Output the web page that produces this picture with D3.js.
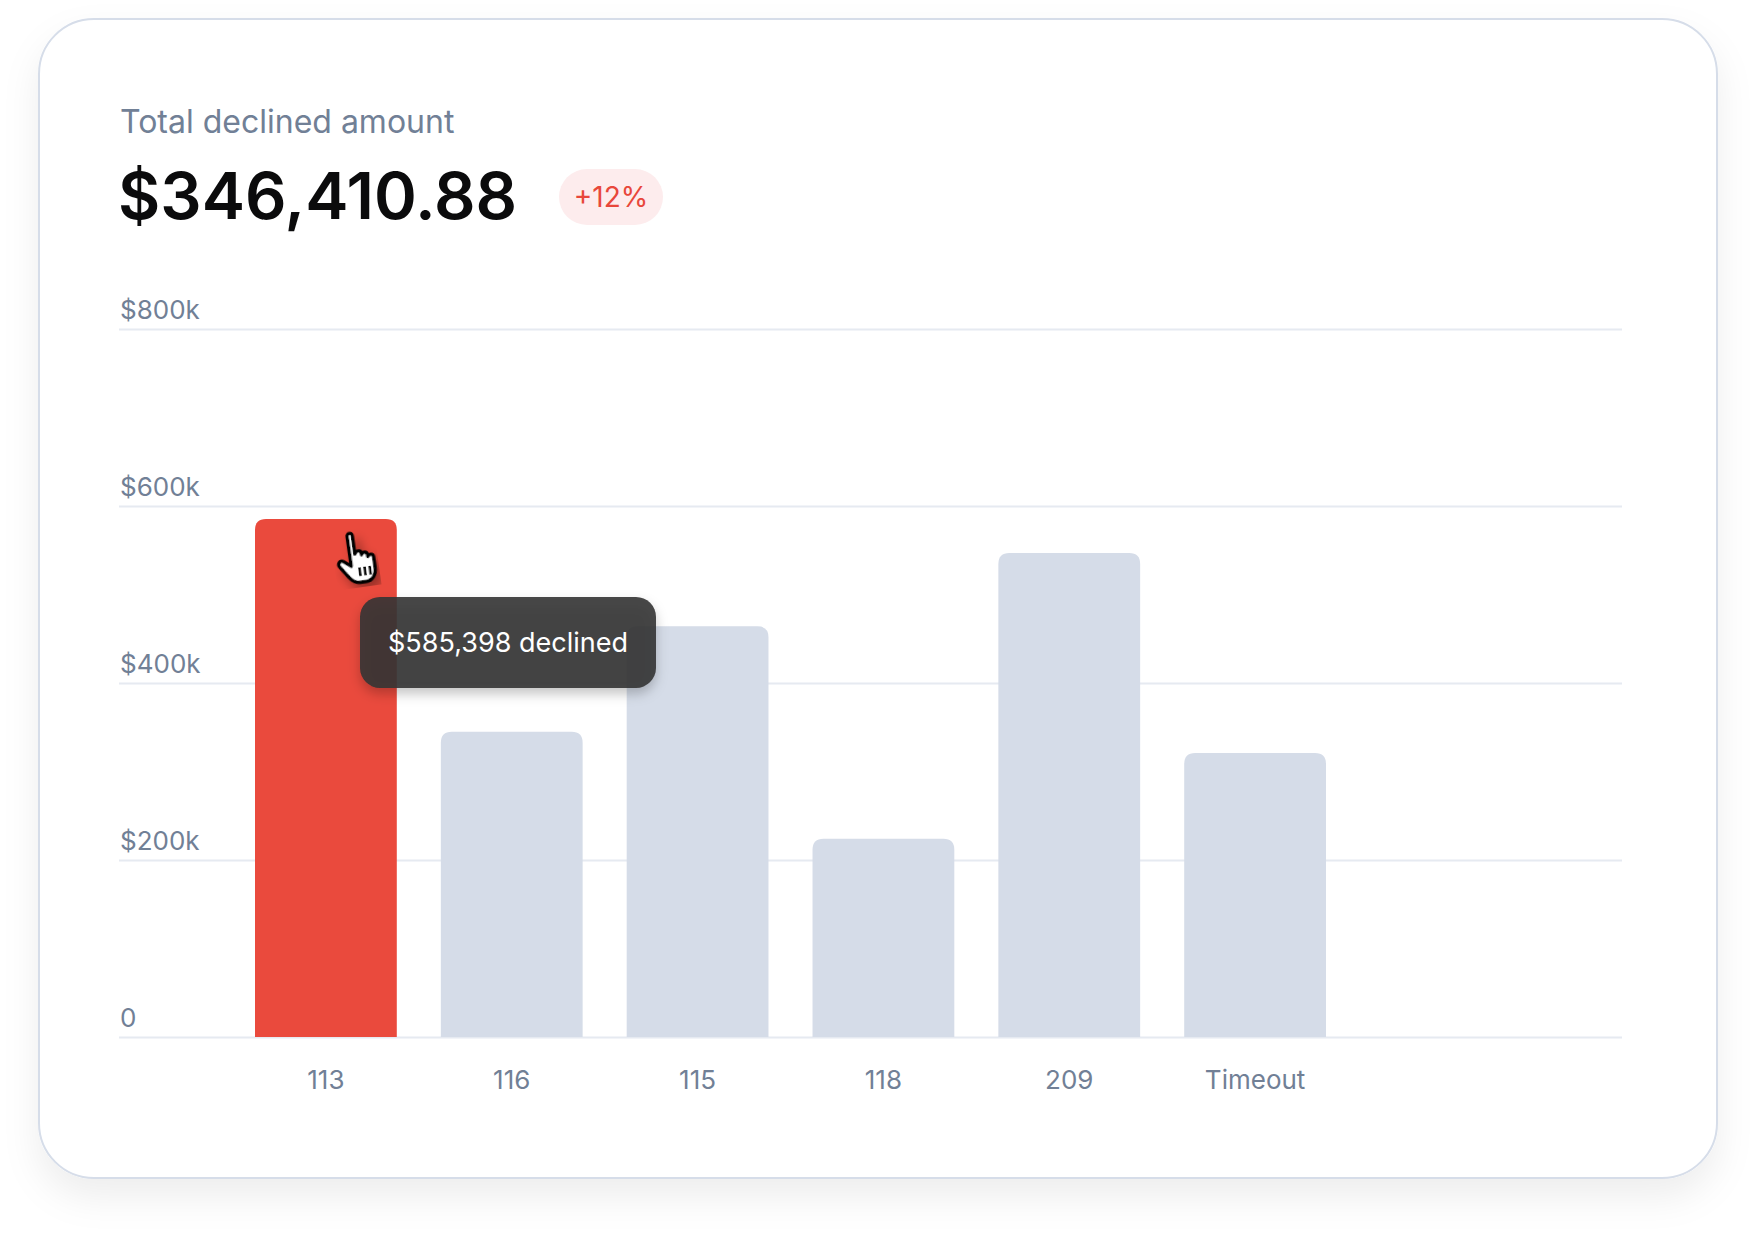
<!DOCTYPE html>
<html lang="en">
<head>
<meta charset="UTF-8">
<title>Total declined amount</title>
<script src="https://d3js.org/d3.v7.min.js"></script>
<style>
    body { margin: 0; background: #fff; font-family: Inter, "Noto Sans", sans-serif; }
    .axis text { font-family: Inter, sans-serif; font-size: 26px; fill: #718096; }
    .axis .domain { display: none; }
</style>
</head>
<body>
<div id="chart"></div>
<script>
    // data
    const categories = ["113", "116", "115", "118", "209", "Timeout"];
    const declined = [585398, 345000, 464000, 224000, 547000, 321000];
    const yTicks = [0, 200000, 400000, 600000, 800000];
    const highlighted = "113";
    const totalLabel = "Total declined amount";
    const totalValue = "$346,410.88";
    const changeLabel = "+12%";

    const W = 1756, H = 1236;
    const svg = d3.select("#chart").append("svg")
        .attr("width", W).attr("height", H);

    const defs = svg.append("defs");
    defs.append("filter").attr("id", "cardShadow")
        .attr("x", "-10%").attr("y", "-10%").attr("width", "120%").attr("height", "125%")
        .append("feDropShadow")
        .attr("dx", 0).attr("dy", 18).attr("stdDeviation", 18)
        .attr("flood-color", "#000").attr("flood-opacity", 0.07);
    defs.append("filter").attr("id", "tipShadow")
        .attr("x", "-20%").attr("y", "-30%").attr("width", "140%").attr("height", "180%")
        .append("feDropShadow")
        .attr("dx", 0).attr("dy", 6).attr("stdDeviation", 6)
        .attr("flood-color", "#000").attr("flood-opacity", 0.25);
    defs.append("filter").attr("id", "cursorShadow")
        .append("feDropShadow")
        .attr("dx", 2).attr("dy", 3).attr("stdDeviation", 2)
        .attr("flood-color", "#000").attr("flood-opacity", 0.35);

    // card
    svg.append("rect")
        .attr("x", 39).attr("y", 19).attr("width", 1678).attr("height", 1159)
        .attr("rx", 55)
        .attr("fill", "#fff").attr("stroke", "#d6dde9").attr("stroke-width", 2)
        .attr("filter", "url(#cardShadow)");

    // header
    svg.append("text")
        .attr("x", 120).attr("y", 133)
        .attr("font-size", 32).attr("fill", "#718096")
        .text(totalLabel);

    svg.append("text")
        .attr("x", 118).attr("y", 219)
        .attr("font-size", 65).attr("font-weight", 600).attr("fill", "#0b0b0c")
        .text(totalValue);

    const badge = svg.append("g").attr("transform", "translate(559,169)");
    badge.append("rect")
        .attr("width", 104).attr("height", 56).attr("rx", 28)
        .attr("fill", "#fdeced");
    badge.append("text")
        .attr("x", 52).attr("y", 38)
        .attr("text-anchor", "middle")
        .attr("font-size", 28).attr("fill", "#e8473b")
        .text(changeLabel);

    // scales
    const gridLeft = 119, gridRight = 1622;
    const y = d3.scaleLinear().domain([0, 800000]).range([1037, 329]);
    const x = d3.scaleBand().domain(categories)
        .range([255, 1326]).paddingInner(0.237).paddingOuter(0);

    const fmt = d => d === 0 ? "0" : "$" + d / 1000 + "k";

    // y axis with gridlines, labels sitting above each line
    const yAxis = svg.append("g").attr("class", "axis")
        .attr("transform", `translate(${gridLeft},0)`)
        .call(d3.axisRight(y).tickValues(yTicks).tickSize(gridRight - gridLeft).tickFormat(fmt));
    yAxis.selectAll(".tick line").attr("stroke", "#e6eaf1").attr("stroke-width", 2);
    yAxis.selectAll(".tick text")
        .attr("x", 1).attr("y", -11).attr("dy", 0)
        .attr("text-anchor", "start");

    // bars with rounded tops
    const r = 11;
    const barPath = (x0, y0, w, y1) =>
        `M${x0},${y1}V${y0 + r}Q${x0},${y0} ${x0 + r},${y0}H${x0 + w - r}Q${x0 + w},${y0} ${x0 + w},${y0 + r}V${y1}Z`;

    svg.append("g").selectAll("path")
        .data(categories.map((c, i) => ({ c, v: declined[i] })))
        .join("path")
        .attr("d", d => barPath(x(d.c), y(d.v), x.bandwidth(), y(0)))
        .attr("fill", d => d.c === highlighted ? "#ea4a3d" : "#d5dce8");

    // x axis labels
    const xAxis = svg.append("g").attr("class", "axis")
        .attr("transform", `translate(0,${y(0)})`)
        .call(d3.axisBottom(x).tickSize(0));
    xAxis.selectAll(".tick text").attr("y", 52).attr("dy", 0);

    // cursor on the highlighted bar
    const hv = declined[categories.indexOf(highlighted)];
    const hx = x(highlighted);
    svg.append("g")
        .attr("transform", `translate(${hx + 76},${y(hv) + 15}) rotate(-8) scale(2.6)`)
        .attr("filter", "url(#cursorShadow)")
        .call(g => {
            g.append("path")
                .attr("d", "M6,2 C6,0.4 8,0.4 8,2 L8,9 C8.5,7.6 10.5,7.6 10.5,9 L10.5,9.6 C11,8.4 12.8,8.4 12.8,10 L12.8,10.6 C13.3,9.6 15,9.6 15,11 L15,15 C15,18 13.4,20 10.8,20 L8.6,20 C6.6,20 5.6,19 4.6,17.6 L1.6,13.2 C0.8,12 1.8,10.4 3.2,11.2 L6,13.4 Z")
                .attr("fill", "#fff").attr("stroke", "#000").attr("stroke-width", 1.3)
                .attr("stroke-linejoin", "round");
            g.append("path")
                .attr("d", "M9,14.2V17.6M11,14.2V17.6M13,14.2V17.6")
                .attr("stroke", "#000").attr("stroke-width", 1);
        });

    // tooltip
    const tip = svg.append("g")
        .attr("transform", `translate(${hx + 105},${y(hv) + 78})`);
    tip.append("rect")
        .attr("width", 296).attr("height", 91).attr("rx", 20)
        .attr("fill", "#333").attr("fill-opacity", 0.9)
        .attr("filter", "url(#tipShadow)");
    tip.append("text")
        .attr("x", 148).attr("y", 55)
        .attr("text-anchor", "middle")
        .attr("font-size", 27).attr("fill", "#fff")
        .text(`$${d3.format(",")(hv)} declined`);
</script>
</body>
</html>
